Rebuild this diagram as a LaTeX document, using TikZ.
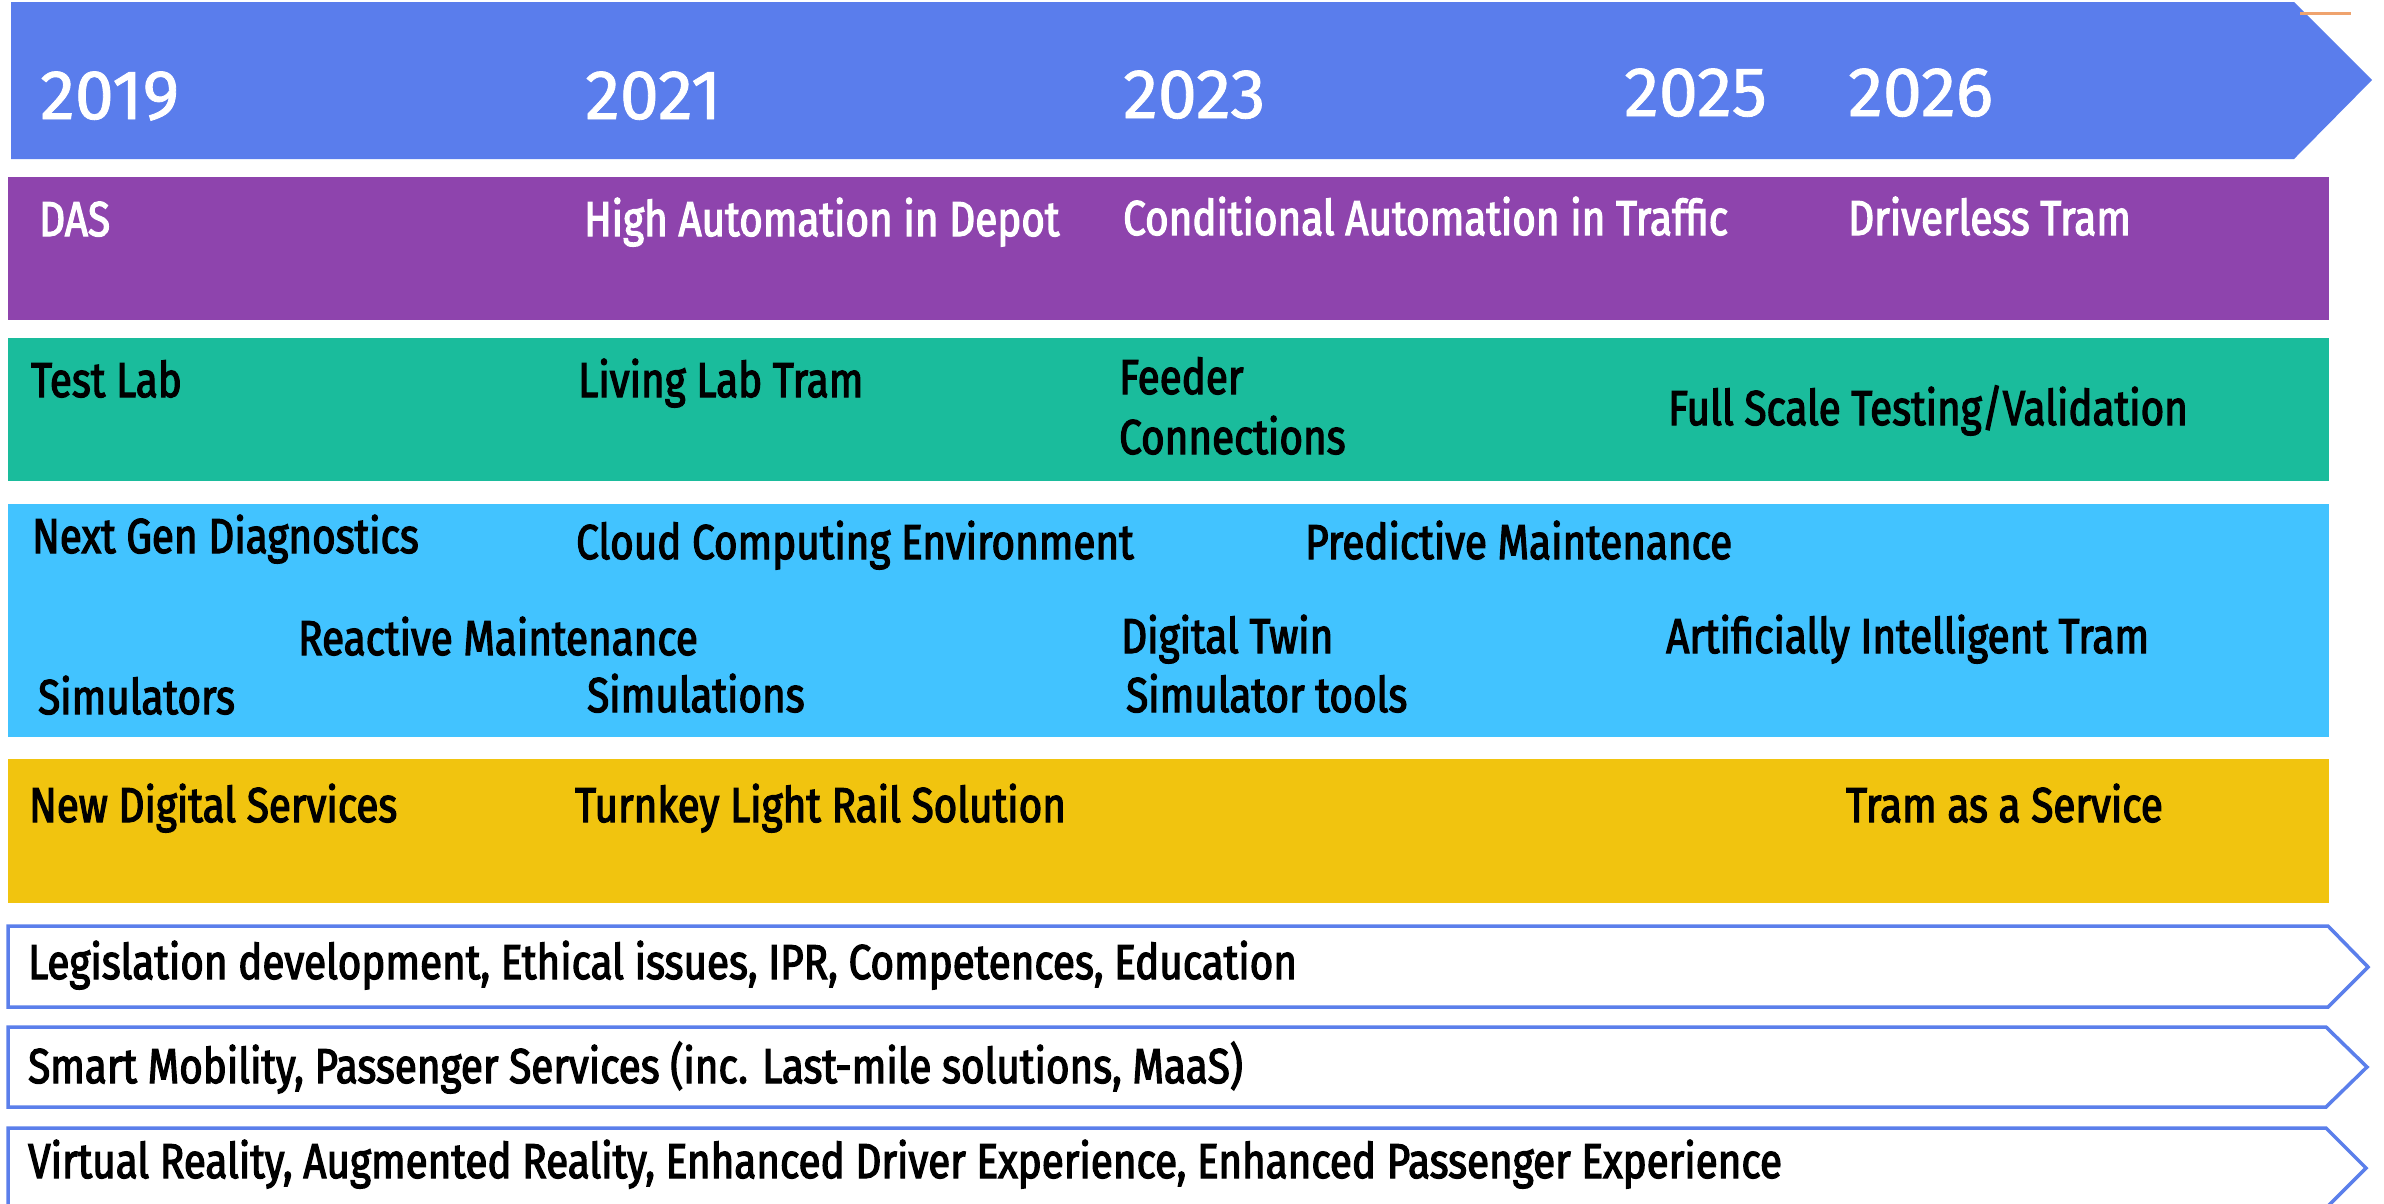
\documentclass[tikz,border=0pt]{standalone}
\usepackage{fontspec}
\setmainfont{Fira Sans}[FakeStretch=0.825]
\newfontfamily\bodyfont{Fira Sans}[FakeStretch=0.825, FakeBold=2.5]
\newfontfamily\yearfont{Fira Sans}[FakeStretch=1.0, FakeBold=1.2]
\definecolor{topblue}{HTML}{5A7DEC}
\definecolor{purpband}{HTML}{8E44AD}
\definecolor{greenband}{HTML}{1ABC9C}
\definecolor{skyband}{HTML}{42C3FF}
\definecolor{yellband}{HTML}{F1C40F}
\definecolor{outblue}{HTML}{5B7FEB}
\definecolor{orangeln}{HTML}{EFA36E}
\tikzset{
  lbl/.style={anchor=base west, inner sep=0pt, text=black, font=\bodyfont\fontsize{49}{59}\selectfont},
  wlbl/.style={lbl, text=white},
  yr/.style={anchor=base west, inner sep=0pt, text=white, font=\yearfont\fontsize{70}{84}\selectfont},
  outarrow/.style={draw=outblue, line width=3.5pt, fill=white, line join=miter},
}
\begin{document}
\begin{tikzpicture}[x=1pt,y=-1pt]
\useasboundingbox (0,0) rectangle (2384,1203);
\clip (0,0) rectangle (2384,1203);
% top timeline arrow
\fill[topblue] (11,2) -- (2294,2) -- (2372,80) -- (2294,159) -- (11,159) -- cycle;
\draw[orangeln, line width=3pt] (2300,13) -- (2351,13);
% bands
\fill[purpband] (8,177) rectangle (2329,320);
\fill[greenband] (8,338) rectangle (2329,481);
\fill[skyband] (8,504) rectangle (2329,737);
\fill[yellband] (8,759) rectangle (2329,903);
% outlined arrows
\draw[outarrow] (8,926) -- (2328,926) -- (2368,967) -- (2328,1007) -- (8,1007) -- cycle;
\draw[outarrow] (8,1027) -- (2326,1027) -- (2367,1067) -- (2326,1107) -- (8,1107) -- cycle;
\draw[outarrow] (8,1128) -- (2326,1128) -- (2366,1168) -- (2326,1208) -- (8,1208) -- cycle;
% years
\node[yr] (y2019) at (40,119) {2019};
\node[yr] (y2021) at (585,119) {2021};
\node[yr] (y2023) at (1123,118) {2023};
\node[yr] (y2025) at (1624,116) {2025};
\node[yr] (y2026) at (1848,116) {2026};
% purple row
\node[wlbl] (das) at (39,236) {DAS};
\node[wlbl] (depot) at (584,236) {High Automation in Depot};
\node[wlbl] (traffic) at (1123,235) {Conditional Automation in Traffic};
\node[wlbl] (driverless) at (1848,235) {Driverless Tram};
% green row
\node[lbl] (testlab) at (31,397) {Test Lab};
\node[lbl] (living) at (578,397) {Living Lab Tram};
\node[lbl] (feeder) at (1119,394) {Feeder};
\node[lbl] (connections) at (1119,454) {Connections};
\node[lbl] (fullscale) at (1668,425) {Full Scale Testing/Validation};
% blue row
\node[lbl] (nextgen) at (32,553) {Next Gen Diagnostics};
\node[lbl] (cloud) at (576,559) {Cloud Computing Environment};
\node[lbl] (predictive) at (1305,559) {Predictive Maintenance};
\node[lbl] (reactive) at (298,655) {Reactive Maintenance};
\node[lbl] (twin) at (1121,653) {Digital Twin};
\node[lbl] (aitram) at (1666,653) {Artificially Intelligent Tram};
\node[lbl] (simulators) at (38,714) {Simulators};
\node[lbl] (simulations) at (587,712) {Simulations};
\node[lbl] (simtools) at (1126,712) {Simulator tools};
% yellow row
\node[lbl] (newdigital) at (29,822) {New Digital Services};
\node[lbl] (turnkey) at (575,822) {Turnkey Light Rail Solution};
\node[lbl] (taas) at (1846,822) {Tram as a Service};
% outlined rows
\node[lbl] (legis) at (28,979) {Legislation development, Ethical issues, IPR, Competences, Education};
\node[lbl] (smart) at (28,1083) {Smart Mobility, Passenger Services (inc. Last-mile solutions, MaaS)};
\node[lbl] (virtual) at (28,1178) {Virtual Reality, Augmented Reality, Enhanced Driver Experience, Enhanced Passenger Experience};
\end{tikzpicture}
\end{document}
